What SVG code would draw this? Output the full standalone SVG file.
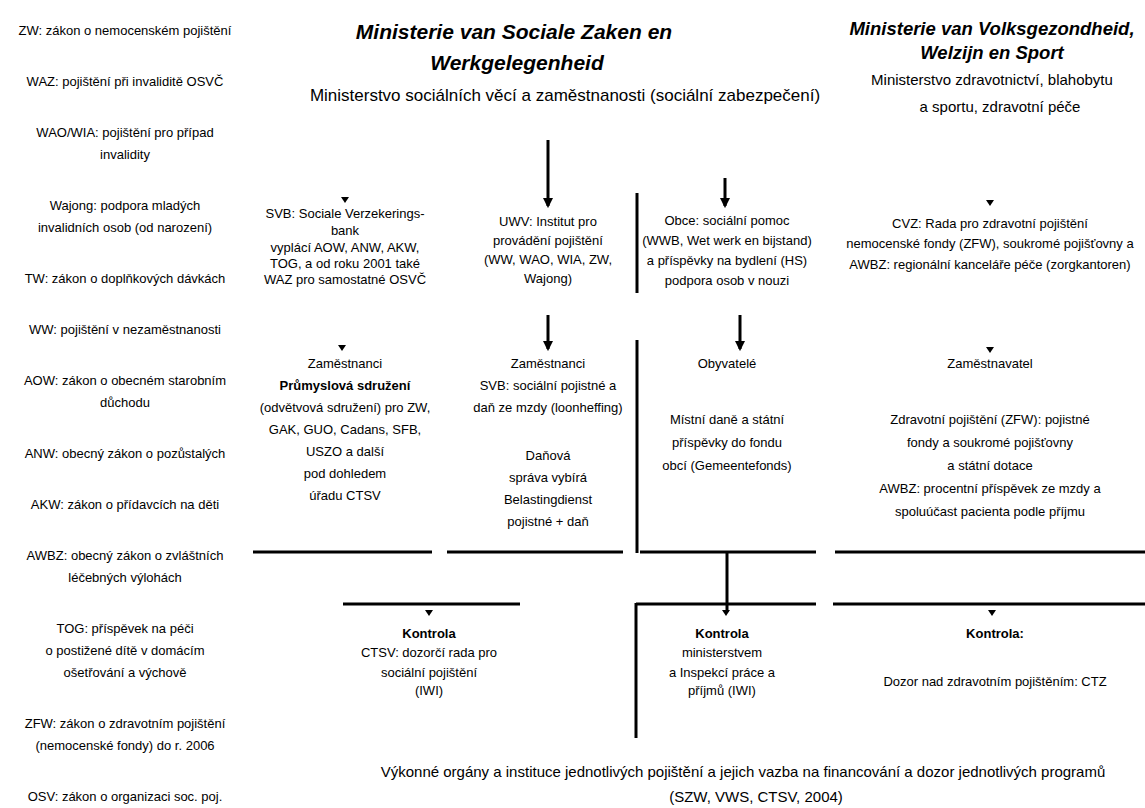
<svg xmlns="http://www.w3.org/2000/svg" width="1145" height="808" viewBox="0 0 1145 808">
<defs>
<marker id="ah" viewBox="0 0 10 10" refX="8" refY="5" markerWidth="3.5" markerHeight="3.5" orient="auto" markerUnits="strokeWidth"><path d="M0,0 L10,5 L0,10 z" fill="#000"/></marker>
<path id="tick" d="M-4,-3 L4,-3 L0,3 z" fill="#000"/>
</defs>
<style>
text{font-family:"Liberation Sans",Arial,sans-serif;font-size:13px;fill:#000;text-anchor:middle}
.h{font-weight:bold;font-style:italic;font-size:21px}
.h2{font-weight:bold;font-style:italic;font-size:18.5px}
.s{font-size:17px}
.m{font-size:15px}
.b{font-weight:bold}
.ln{stroke:#000;stroke-width:3;fill:none}
.ar{stroke:#000;stroke-width:3;fill:none;marker-end:url(#ah)}
</style>
<rect width="1145" height="808" fill="#fff"/>

<g id="legend">
<g id="l1"><text x="125" y="35">ZW: zákon o nemocenském pojištění</text></g>
<g id="l2"><text x="125" y="86">WAZ: pojištění při invaliditě OSVČ</text></g>
<g id="l3"><text x="125" y="137">WAO/WIA: pojištění pro případ</text><text x="125" y="159">invalidity</text></g>
<g id="l4"><text x="125" y="210">Wajong: podpora mladých</text><text x="125" y="232">invalidních osob (od narození)</text></g>
<g id="l5"><text x="125" y="283">TW: zákon o doplňkových dávkách</text></g>
<g id="l6"><text x="125" y="334">WW: pojištění v nezaměstnanosti</text></g>
<g id="l7"><text x="125" y="385">AOW: zákon o obecném starobním</text><text x="125" y="407">důchodu</text></g>
<g id="l8"><text x="125" y="458">ANW: obecný zákon o pozůstalých</text></g>
<g id="l9"><text x="125" y="509">AKW: zákon o přídavcích na děti</text></g>
<g id="l10"><text x="125" y="560">AWBZ: obecný zákon o zvláštních</text><text x="125" y="582">léčebných výlohách</text></g>
<g id="l11"><text x="125" y="633">TOG: příspěvek na péči</text><text x="125" y="655">o postižené dítě v domácím</text><text x="125" y="677">ošetřování a výchově</text></g>
<g id="l12"><text x="125" y="728">ZFW: zákon o zdravotním pojištění</text><text x="125" y="750">(nemocenské fondy) do r. 2006</text></g>
<g id="l13"><text x="125" y="801">OSV: zákon o organizaci soc. poj.</text></g>
</g>

<g id="szw">
<text class="h" x="514" y="39">Ministerie van Sociale Zaken en</text>
<text class="h" x="517" y="70">Werkgelegenheid</text>
<text class="s" x="565" y="101">Ministerstvo sociálních věcí a zaměstnanosti (sociální zabezpečení)</text>
</g>

<g id="vws">
<text class="h2" x="992" y="35">Ministerie van Volksgezondheid,</text>
<text class="h2" x="992" y="59">Welzijn en Sport</text>
<text class="m" x="992" y="85">Ministerstvo zdravotnictví, blahobytu</text>
<text class="m" x="1000" y="112">a sportu, zdravotní péče</text>
</g>

<g id="svb">
<use href="#tick" x="345" y="200"/>
<text x="345" y="218">SVB: Sociale Verzekerings-</text>
<text x="345" y="235">bank</text>
<text x="345" y="252">vyplácí AOW, ANW, AKW,</text>
<text x="345" y="268">TOG, a od roku 2001 také</text>
<text x="345" y="284">WAZ pro samostatné OSVČ</text>
</g>

<g id="uwv">
<text x="548" y="226">UWV: Institut pro</text>
<text x="548" y="245">provádění pojištění</text>
<text x="548" y="264">(WW, WAO, WIA, ZW,</text>
<text x="548" y="283">Wajong)</text>
</g>

<g id="gemeenten">
<text x="727" y="225">Obce: sociální pomoc</text>
<text x="727" y="245">(WWB, Wet werk en bijstand)</text>
<text x="727" y="265">a příspěvky na bydlení (HS)</text>
<text x="727" y="285">podpora osob v nouzi</text>
</g>

<g id="cvz">
<use href="#tick" x="990" y="203"/>
<text x="990" y="228">CVZ: Rada pro zdravotní pojištění</text>
<text x="990" y="248">nemocenské fondy (ZFW), soukromé pojišťovny a</text>
<text x="990" y="269">AWBZ: regionální kanceláře péče (zorgkantoren)</text>
</g>

<g id="f1">
<use href="#tick" x="342" y="348"/>
<text x="345" y="368">Zaměstnanci</text>
<text class="b" x="345" y="390">Průmyslová sdružení</text>
<text x="345" y="412">(odvětvová sdružení) pro ZW,</text>
<text x="345" y="434">GAK, GUO, Cadans, SFB,</text>
<text x="345" y="456">USZO a další</text>
<text x="345" y="478">pod dohledem</text>
<text x="345" y="500">úřadu CTSV</text>
</g>

<g id="f2">
<text x="548" y="368">Zaměstnanci</text>
<text x="548" y="390">SVB: sociální pojistné a</text>
<text x="548" y="412">daň ze mzdy (loonheffing)</text>
<text x="548" y="460">Daňová</text>
<text x="548" y="482">správa vybírá</text>
<text x="548" y="504">Belastingdienst</text>
<text x="548" y="526">pojistné + daň</text>
</g>

<g id="f3">
<text x="727" y="368">Obyvatelé</text>
<text x="727" y="424">Místní daně a státní</text>
<text x="727" y="447">příspěvky do fondu</text>
<text x="727" y="470">obcí (Gemeentefonds)</text>
</g>

<g id="f4">
<use href="#tick" x="990" y="350"/>
<text x="990" y="368">Zaměstnavatel</text>
<text x="990" y="424">Zdravotní pojištění (ZFW): pojistné</text>
<text x="990" y="447">fondy a soukromé pojišťovny</text>
<text x="990" y="470">a státní dotace</text>
<text x="990" y="493">AWBZ: procentní příspěvek ze mzdy a</text>
<text x="990" y="516">spoluúčast pacienta podle příjmu</text>
</g>

<g id="k1">
<use href="#tick" x="429" y="613"/>
<text class="b" x="429" y="638">Kontrola</text>
<text x="429" y="657">CTSV: dozorčí rada pro</text>
<text x="429" y="677">sociální pojištění</text>
<text x="429" y="695">(IWI)</text>
</g>

<g id="k2">
<use href="#tick" x="726" y="613"/>
<text class="b" x="722" y="638">Kontrola</text>
<text x="722" y="657">ministerstvem</text>
<text x="722" y="677">a Inspekcí práce a</text>
<text x="722" y="695">příjmů (IWI)</text>
</g>

<g id="k3">
<use href="#tick" x="992" y="613"/>
<text class="b" x="995" y="638">Kontrola:</text>
<text x="995" y="686">Dozor nad zdravotním pojištěním: CTZ</text>
</g>

<g id="note">
<text class="m" x="743" y="777">Výkonné orgány a instituce jednotlivých pojištění a jejich vazba na financování a dozor jednotlivých programů</text>
<text class="m" x="756" y="802">(SZW, VWS, CTSV, 2004)</text>
</g>

<g id="connectors">
<line class="ar" x1="548" y1="140" x2="548" y2="206"/>
<line class="ar" x1="725" y1="178" x2="725" y2="206"/>
<line class="ln" x1="637" y1="193" x2="637" y2="293"/>
<line class="ar" x1="548" y1="315" x2="548" y2="349"/>
<line class="ar" x1="740" y1="315" x2="740" y2="349"/>
<line class="ln" x1="637" y1="340" x2="637" y2="553"/>
<line class="ln" x1="253" y1="552" x2="432" y2="552"/>
<line class="ln" x1="447" y1="552" x2="623" y2="552"/>
<line class="ln" x1="640" y1="552" x2="816" y2="552"/>
<line class="ln" x1="835" y1="552" x2="1145" y2="552"/>
<line class="ln" x1="727" y1="552" x2="727" y2="612"/>
<line class="ln" x1="343" y1="604" x2="520" y2="604"/>
<line class="ln" x1="636" y1="604" x2="816" y2="604"/>
<line class="ln" x1="833" y1="604" x2="1145" y2="604"/>
<line class="ln" x1="636" y1="603" x2="636" y2="738"/>
</g>
</svg>
